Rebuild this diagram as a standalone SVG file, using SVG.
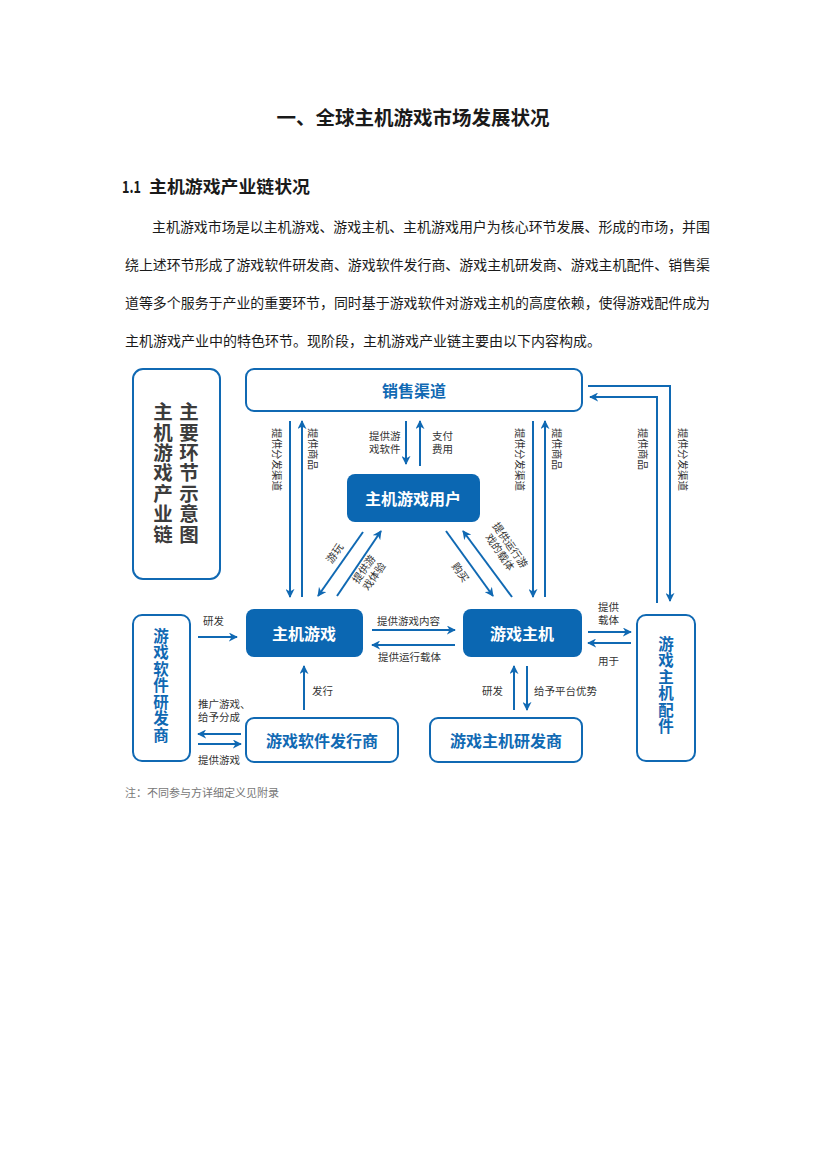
<svg xmlns="http://www.w3.org/2000/svg" width="827" height="1169" viewBox="0 0 827 1169">
<style>
.bg{fill:#ffffff}
.t{font-family:"Noto Sans CJK SC","Noto Sans",sans-serif;fill:#1a1a1a}
.title{font-size:19.5px;font-weight:bold}
.h{font-size:16.5px;font-weight:bold}
.p{font-size:14px}
.note{font-size:11px;fill:#777}
.ob{fill:#fff;stroke:#1069b3;stroke-width:2}
.fb{fill:#0b67b2}
.bt{font-family:"Noto Sans CJK SC","Noto Sans",sans-serif;font-size:16px;font-weight:bold;text-anchor:middle;dominant-baseline:central}
.w{fill:#fff}
.b{fill:#1069b3}
.g{fill:#3c3c3c}
.vt{font-family:"Noto Sans CJK SC","Noto Sans",sans-serif;font-weight:bold;writing-mode:vertical-rl}
.l{font-family:"Noto Sans CJK SC","Noto Sans",sans-serif;font-size:10.5px;fill:#333;dominant-baseline:central}
.ca{fill:none;stroke:#1069b3;stroke-width:2;marker-end:url(#ar)}
</style>
<defs>
<marker id="ar" viewBox="0 0 10 10" refX="9" refY="5" markerWidth="9" markerHeight="9" orient="auto" markerUnits="userSpaceOnUse">
<path d="M0,0 L10,5 L0,10 L3,5 z" fill="#1069b3"/>
</marker>
</defs>
<rect class="bg" x="0" y="0" width="827" height="1169"/>

<text class="t title" x="413" y="125" text-anchor="middle">一、全球主机游戏市场发展状况</text>
<text class="t h" x="122" y="193" textLength="19" lengthAdjust="spacingAndGlyphs">1.1</text>
<text class="t h" x="149" y="193" textLength="161" lengthAdjust="spacingAndGlyphs">主机游戏产业链状况</text>
<text class="t p" x="152" y="232" textLength="558" lengthAdjust="spacingAndGlyphs">主机游戏市场是以主机游戏、游戏主机、主机游戏用户为核心环节发展、形成的市场，并围</text>
<text class="t p" x="125" y="270" textLength="585" lengthAdjust="spacingAndGlyphs">绕上述环节形成了游戏软件研发商、游戏软件发行商、游戏主机研发商、游戏主机配件、销售渠</text>
<text class="t p" x="125" y="308" textLength="585" lengthAdjust="spacingAndGlyphs">道等多个服务于产业的重要环节，同时基于游戏软件对游戏主机的高度依赖，使得游戏配件成为</text>
<text class="t p" x="125" y="346">主机游戏产业中的特色环节。现阶段，主机游戏产业链主要由以下内容构成。</text>

<g id="legend-box">
<rect class="ob" x="133" y="369" width="87" height="210" rx="10"/>
<text class="vt g" font-size="19.5" letter-spacing="0.9" x="163" y="402">主机游戏产业链</text>
<text class="vt g" font-size="19.5" letter-spacing="0.9" x="189" y="402">主要环节示意图</text>
</g>

<g id="sales">
<rect class="ob" x="246" y="369" width="336" height="42" rx="8"/>
<text class="bt b" x="414" y="390">销售渠道</text>
</g>
<g id="users">
<rect class="fb" x="347" y="474" width="133" height="48" rx="8"/>
<text class="bt w" x="413" y="498">主机游戏用户</text>
</g>
<g id="game">
<rect class="fb" x="246" y="609" width="117" height="48" rx="8"/>
<text class="bt w" x="304" y="633">主机游戏</text>
</g>
<g id="console">
<rect class="fb" x="463" y="609" width="119" height="48" rx="8"/>
<text class="bt w" x="522" y="633">游戏主机</text>
</g>
<g id="soft-dev">
<rect class="ob" x="133" y="615" width="57" height="146" rx="9"/>
<text class="vt b" font-size="15.5" letter-spacing="1" x="161" y="628">游戏软件研发商</text>
</g>
<g id="publisher">
<rect class="ob" x="246" y="718" width="152" height="44" rx="8"/>
<text class="bt b" x="322" y="740">游戏软件发行商</text>
</g>
<g id="console-dev">
<rect class="ob" x="430" y="718" width="152" height="44" rx="8"/>
<text class="bt b" x="506" y="740">游戏主机研发商</text>
</g>
<g id="accessory">
<rect class="ob" x="637" y="615" width="58" height="146" rx="9"/>
<text class="vt b" font-size="15.5" letter-spacing="1" x="666" y="636">游戏主机配件</text>
</g>

<g id="connectors">
<line class="ca" x1="290" y1="421" x2="290" y2="597"/>
<line class="ca" x1="302" y1="597" x2="302" y2="421"/>
<line class="ca" x1="406" y1="421" x2="406" y2="464"/>
<line class="ca" x1="420" y1="466" x2="420" y2="421"/>
<line class="ca" x1="533" y1="421" x2="533" y2="597"/>
<line class="ca" x1="545" y1="597" x2="545" y2="421"/>
<polyline class="ca" points="588,386 670,386 670,601"/>
<polyline class="ca" points="657,603 657,397 590,397"/>
<line class="ca" x1="363" y1="532" x2="318" y2="596"/>
<line class="ca" x1="337" y1="596" x2="381" y2="531"/>
<line class="ca" x1="446" y1="531" x2="493" y2="596"/>
<line class="ca" x1="512" y1="597" x2="463" y2="531"/>
<line class="ca" x1="198" y1="637" x2="237" y2="637"/>
<line class="ca" x1="372" y1="630" x2="455" y2="630"/>
<line class="ca" x1="455" y1="645" x2="372" y2="645"/>
<line class="ca" x1="304" y1="710" x2="304" y2="666"/>
<line class="ca" x1="241" y1="734" x2="198" y2="734"/>
<line class="ca" x1="198" y1="744" x2="241" y2="744"/>
<line class="ca" x1="514" y1="710" x2="514" y2="666"/>
<line class="ca" x1="527" y1="666" x2="527" y2="710"/>
<line class="ca" x1="588" y1="632" x2="631" y2="632"/>
<line class="ca" x1="631" y1="643" x2="588" y2="643"/>
</g>

<g id="labels">
<text class="l" transform="translate(277,428) rotate(90)">提供分发渠道</text>
<text class="l" transform="translate(313,428) rotate(90)">提供商品</text>
<text class="l"><tspan x="369" y="434.5">提供游</tspan><tspan x="369" y="448">戏软件</tspan></text>
<text class="l"><tspan x="432" y="434.5">支付</tspan><tspan x="432" y="448">费用</tspan></text>
<text class="l" transform="translate(520,428) rotate(90)">提供分发渠道</text>
<text class="l" transform="translate(557,428) rotate(90)">提供商品</text>
<text class="l" transform="translate(643,428) rotate(90)">提供商品</text>
<text class="l" transform="translate(683,428) rotate(90)">提供分发渠道</text>
<text class="l" text-anchor="middle" transform="translate(334,553) rotate(-55)">游玩</text>
<text class="l" text-anchor="middle" transform="translate(368,572) rotate(-55)"><tspan x="0" y="-6.25">提供游</tspan><tspan x="0" y="6.25">戏体验</tspan></text>
<text class="l" text-anchor="middle" transform="translate(461,572) rotate(55)">购买</text>
<text class="l" text-anchor="middle" transform="translate(506,548) rotate(55)"><tspan x="0" y="-6.25">提供运行游</tspan><tspan x="0" y="6.25">戏的载体</tspan></text>
<text class="l" x="203" y="620">研发</text>
<text class="l" x="377" y="620">提供游戏内容</text>
<text class="l" x="378" y="656">提供运行载体</text>
<text class="l" x="312" y="690">发行</text>
<text class="l"><tspan x="198" y="703">推广游戏、</tspan><tspan x="198" y="716">给予分成</tspan></text>
<text class="l" x="198" y="759">提供游戏</text>
<text class="l" x="482" y="690">研发</text>
<text class="l" x="534" y="690">给予平台优势</text>
<text class="l"><tspan x="598" y="606">提供</tspan><tspan x="598" y="619">载体</tspan></text>
<text class="l" x="598" y="660">用于</text>
</g>

<text class="t note" x="125" y="797">注：不同参与方详细定义见附录</text>
</svg>
